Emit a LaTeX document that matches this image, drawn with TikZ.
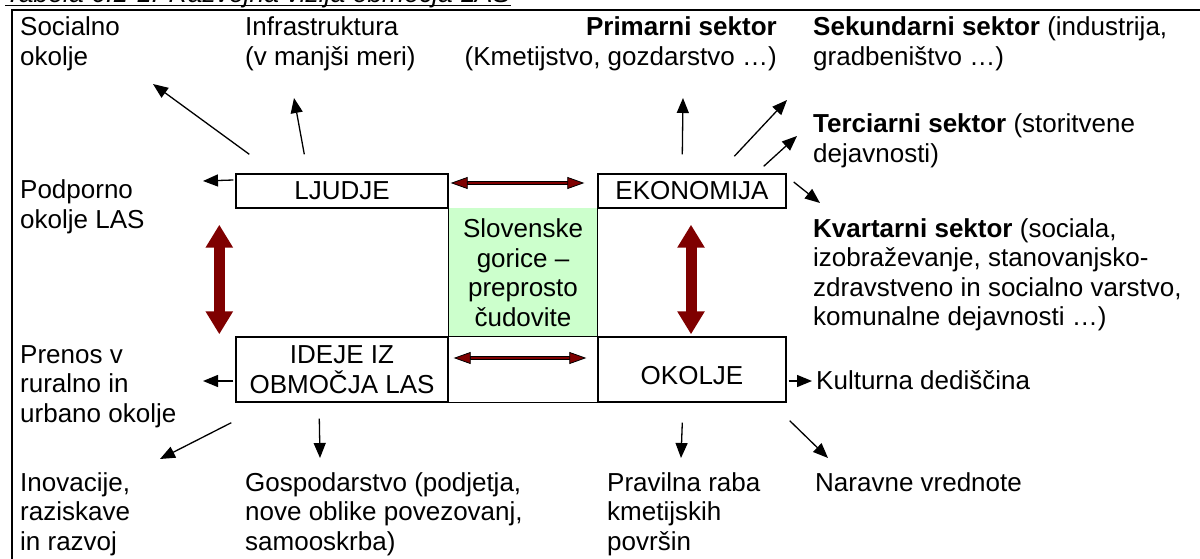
\documentclass[tikz,border=0pt]{standalone}
\usepackage{fontspec}
\setmainfont{Liberation Sans}
\usepackage{xcolor}
\usetikzlibrary{calc,arrows.meta}
\definecolor{temnordeca}{HTML}{7F0000}
\definecolor{svetlozelena}{HTML}{CCFFCC}
\newcommand{\diagfont}{\fontsize{26}{29.5}\selectfont}
\tikzset{
	box/.style={draw, line width=1.4pt, inner sep=0pt, align=center, font=\diagfont},
	txt/.style={anchor=base west, inner sep=0pt, align=left, font=\diagfont},
	arr/.style={line width=1.3pt, -{Triangle[length=15pt,width=12pt]}},
	bigred/.style={line width=11pt, draw=temnordeca, {Triangle[length=23pt,width=26pt]}-{Triangle[length=23pt,width=26pt]}},
	thinred/.style={line width=2.4pt, draw=temnordeca,
		{Triangle[length=17pt,width=12pt,fill=temnordeca,color=black,line width=0.8pt]}-{Triangle[length=17pt,width=12pt,fill=temnordeca,color=black,line width=0.8pt]},
		preaction={draw=black, line width=4.2pt, arrows=-, shorten <=9pt, shorten >=9pt}}
}
\begin{document}
\begin{tikzpicture}[x=1pt,y=-1pt]
				\useasboundingbox (0,0) rectangle (1200,559);
				
				\node[anchor=base west, inner sep=0pt, font=\fontsize{26.5}{30}\selectfont\itshape] (naslov) at (5,3) {Tabela 6.1-1: Razvojna vizija območja LAS};
				\draw[line width=1.3pt] ([yshift=-2.5pt]naslov.base west) -- ([yshift=-2.5pt]naslov.base east);
				\draw[line width=1.4pt] (12,600) -- (12,10) -- (1250,10);
				
				\node[fill=svetlozelena, minimum width=150pt, minimum height=129pt, inner sep=0pt, align=center, font=\diagfont] (vizija) at (523,272.5) {Slovenske\\gorice --\\preprosto\\čudovite};
				
				\node[box, minimum width=212pt, minimum height=34pt] (ljudje) at (342,191) {LJUDJE};
				\node[box, minimum width=188pt, minimum height=34pt] (ekonomija) at (692,191) {EKONOMIJA};
				\node[box, minimum width=212pt, minimum height=65pt] (ideje) at (342,369.5) {IDEJE IZ\\OBMOČJA LAS};
				\node[box, minimum width=188pt, minimum height=65pt] (okolje) at (692,369.5) {\mbox{}\\OKOLJE};
				\draw[line width=1.4pt] (ideje.north east) rectangle (okolje.south west);
				\draw[line width=1.4pt] (ljudje.south east) -- (ideje.north east);
				\draw[line width=1.4pt] (ekonomija.south west) -- (okolje.north west);
				
				\node[txt] (socialno) at (20,65.5) {Socialno\\okolje};
				\node[txt] (infra) at (245,65.5) {Infrastruktura\\(v manjši meri)};
				\node[txt, anchor=base east, align=right] (primarni) at (777,65.5) {\textbf{Primarni sektor}\\(Kmetijstvo, gozdarstvo …)};
				\node[txt] (sekundarni) at (813,65.5) {\textbf{Sekundarni sektor} (industrija,\\gradbeništvo …)};
				\node[txt] (terciarni) at (813,162.5) {\textbf{Terciarni sektor} (storitvene\\dejavnosti)};
				\node[txt] (podporno) at (20,228.5) {Podporno\\okolje LAS};
				\node[txt] (kvartarni) at (813,325.5) {\textbf{Kvartarni sektor} (sociala,\\izobraževanje, stanovanjsko-\\zdravstveno in socialno varstvo,\\komunalne dejavnosti …)};
				\node[txt] (prenos) at (20,422) {Prenos v\\ruralno in\\urbano okolje};
				\node[txt] (kultura) at (816,389) {Kulturna dediščina};
				\node[txt] (inovacije) at (20,550) {Inovacije,\\raziskave\\in razvoj};
				\node[txt] (gospodarstvo) at (245,550) {Gospodarstvo (podjetja,\\nove oblike povezovanj,\\samooskrba)};
				\node[txt] (raba) at (607,550) {Pravilna raba\\kmetijskih\\površin};
				\node[txt] (narava) at (815,491) {Naravne vrednote};
				
				\coordinate (socT) at (153,84);
				\coordinate (infT) at (294,98);
				\coordinate (podT) at (203,181);
				\coordinate (primT) at (683,98);
				\coordinate (sekT) at (787,100);
				\coordinate (terT) at (797,136);
				\coordinate (kvaT) at (820,203);
				\coordinate (preT) at (203,381);
				\coordinate (kulT) at (812,381);
				\coordinate (inoT) at (160,459);
				\coordinate (gosT) at (320,458);
				\coordinate (praT) at (681,458);
				\coordinate (narT) at (828,458);
				
				\draw[arr] ([shift={(14,-19)}]ljudje.north west) -- (socT);
				\draw[arr] ([shift={(69,-19)}]ljudje.north west) -- (infT);
				\draw[arr] ([shift={(-2,-11)}]ljudje.west) -- (podT);
				\draw[arr] ([shift={(85,-19)}]ekonomija.north west) -- (primT);
				\draw[arr] ([shift={(137,-17)}]ekonomija.north west) -- (sekT);
				\draw[arr] ([shift={(-23,-7)}]ekonomija.north east) -- (terT);
				\draw[arr] ([shift={(7,-9)}]ekonomija.east) -- (kvaT);
				\draw[arr] ([shift={(-2,11.5)}]ideje.west) -- (preT);
				\draw[arr] ([shift={(-4,20)}]ideje.south west) -- (inoT);
				\draw[arr] ([shift={(84,16)}]ideje.south west) -- (gosT);
				\draw[arr] ([shift={(85,20)}]okolje.south west) -- (praT);
				\draw[arr] ([shift={(3,18)}]okolje.south east) -- (narT);
				\draw[arr] ([shift={(2,11.5)}]okolje.east) -- (kulT);
				
				\draw[bigred] ([shift={(-16,16)}]ljudje.south west) -- ([shift={(-16,-2)}]ideje.north west);
				\draw[bigred] ([shift={(-1,16)}]ekonomija.south) -- ([shift={(-1,-2)}]okolje.north);
				\draw[thinred] ([shift={(2,-8)}]ljudje.east) -- ([shift={(-13,-8)}]ekonomija.west);
				\draw[thinred] ([shift={(5,-11.5)}]ideje.east) -- ([shift={(-11,-11.5)}]okolje.west);
			\end{tikzpicture}
\end{document}
